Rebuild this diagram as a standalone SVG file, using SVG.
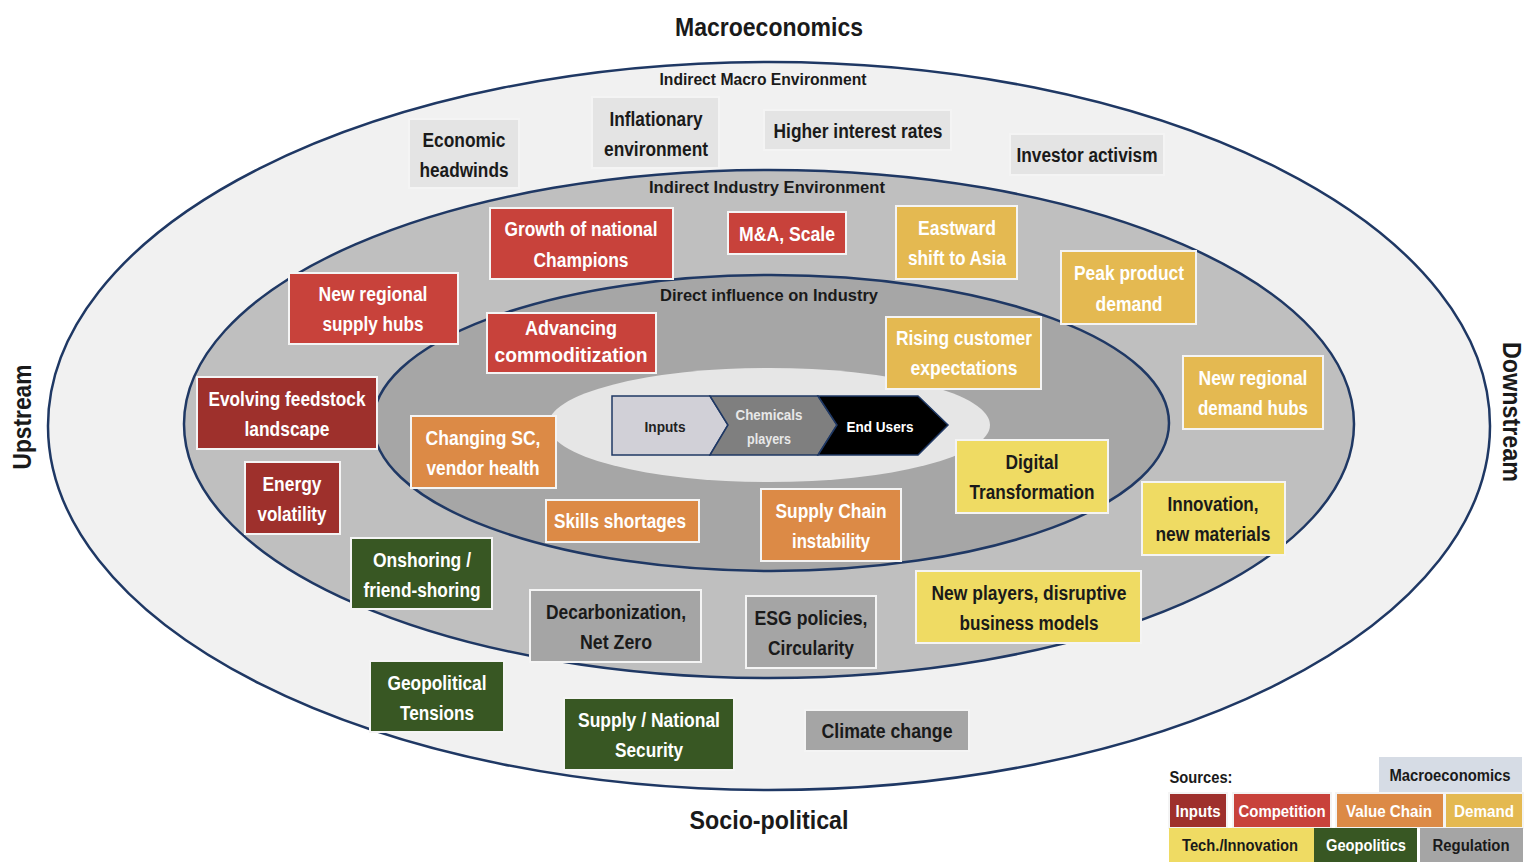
<svg xmlns="http://www.w3.org/2000/svg" width="1527" height="862" viewBox="0 0 1527 862">
<style>
text{font-family:"Liberation Sans Narrow","Liberation Sans",Arial,sans-serif;font-weight:bold;text-anchor:middle;dominant-baseline:central}
.ring{stroke:#1f3864;stroke-width:2.5}
.b{stroke:#f4f4f4;stroke-width:2}
.t{font-size:20px}
.macro{fill:#e4e4e4}
.comp{fill:#c8423b}
.inp{fill:#9e302c}
.vc{fill:#dc8a46}
.dem{fill:#e4b951}
.tech{fill:#efdb63}
.geo{fill:#385723}
.reg{fill:#a5a5a5}
.w{fill:#ffffff}
.d{fill:#1a1a1a}
.lg{font-size:16px}
</style>
<rect width="1527" height="862" fill="#ffffff"/>
<g id="rings">
<ellipse class="ring" cx="769" cy="426" rx="721" ry="364" fill="#f1f1f1"/>
<ellipse class="ring" cx="769" cy="424" rx="585" ry="254" fill="#bfbfbf"/>
<ellipse class="ring" cx="771" cy="423" rx="398" ry="148" fill="#a6a6a6"/>
<ellipse cx="769" cy="425" rx="221" ry="57" fill="#e6e6e6"/>
</g>
<g id="titles">
<text x="769" y="27" font-size="26" textLength="188" lengthAdjust="spacingAndGlyphs" class="d">Macroeconomics</text>
<text x="769" y="820" font-size="26" textLength="159" lengthAdjust="spacingAndGlyphs" class="d">Socio-political</text>
<text x="0" y="0" font-size="26" textLength="105" lengthAdjust="spacingAndGlyphs" class="d" transform="translate(22,417) rotate(-90)">Upstream</text>
<text x="0" y="0" font-size="26" textLength="140" lengthAdjust="spacingAndGlyphs" class="d" transform="translate(1512,412) rotate(90)">Downstream</text>
<text x="763" y="79" font-size="16" textLength="207" lengthAdjust="spacingAndGlyphs" class="d">Indirect Macro Environment</text>
<text x="767" y="187" font-size="16" textLength="236" lengthAdjust="spacingAndGlyphs" class="d">Indirect Industry Environment</text>
<text x="769" y="295" font-size="16" textLength="218" lengthAdjust="spacingAndGlyphs" class="d">Direct influence on Industry</text>
</g>
<g id="value-chain">
<g id="chev-inputs"><polygon points="612,396 710,396 728,425 710,455 612,455" fill="#d1d0d7" stroke="#1f3864" stroke-width="1.5"/>
<text x="665" y="426" font-size="15" textLength="41" lengthAdjust="spacingAndGlyphs" fill="#222">Inputs</text></g>
<g id="chev-chem"><polygon points="710,396 818,396 837,425 818,455 710,455 728,425" fill="#7f7f7f" stroke="#1f3864" stroke-width="1.5"/>
<text x="769" y="414" font-size="15" textLength="67" lengthAdjust="spacingAndGlyphs" fill="#e8e8e8">Chemicals</text>
<text x="769" y="438" font-size="15" textLength="44" lengthAdjust="spacingAndGlyphs" fill="#e8e8e8">players</text></g>
<g id="chev-end"><polygon points="818,396 918,396 948,425 918,455 818,455 837,425" fill="#000000" stroke="#1f3864" stroke-width="1.5"/>
<text x="880" y="426" font-size="15" textLength="67" lengthAdjust="spacingAndGlyphs" fill="#ffffff">End Users</text></g>
</g>
<g id="connectors"></g>
<g id="n-econ"><rect class="b macro" x="409" y="119" width="110" height="69"/><text class="t d" x="464" y="140" textLength="83" lengthAdjust="spacingAndGlyphs">Economic</text><text class="t d" x="464" y="170" textLength="89" lengthAdjust="spacingAndGlyphs">headwinds</text></g>
<g id="n-infl"><rect class="b macro" x="592" y="97" width="127" height="71"/><text class="t d" x="656" y="119" textLength="93" lengthAdjust="spacingAndGlyphs">Inflationary</text><text class="t d" x="656" y="149" textLength="104" lengthAdjust="spacingAndGlyphs">environment</text></g>
<g id="n-rates"><rect class="b macro" x="764" y="110" width="187" height="40"/><text class="t d" x="858" y="131" textLength="169" lengthAdjust="spacingAndGlyphs">Higher interest rates</text></g>
<g id="n-investor"><rect class="b macro" x="1010" y="134" width="154" height="41"/><text class="t d" x="1087" y="155" textLength="141" lengthAdjust="spacingAndGlyphs">Investor activism</text></g>
<g id="n-growth"><rect class="b comp" x="490" y="208" width="183" height="71"/><text class="t w" x="581" y="229" textLength="153" lengthAdjust="spacingAndGlyphs">Growth of national</text><text class="t w" x="581" y="260" textLength="95" lengthAdjust="spacingAndGlyphs">Champions</text></g>
<g id="n-ma"><rect class="b comp" x="728" y="212" width="118" height="42"/><text class="t w" x="787" y="234" textLength="96" lengthAdjust="spacingAndGlyphs">M&amp;A, Scale</text></g>
<g id="n-supplyhubs"><rect class="b comp" x="289" y="273" width="169" height="71"/><text class="t w" x="373" y="294" textLength="109" lengthAdjust="spacingAndGlyphs">New regional</text><text class="t w" x="373" y="324" textLength="101" lengthAdjust="spacingAndGlyphs">supply hubs</text></g>
<g id="n-commod"><rect class="b comp" x="487" y="313" width="169" height="60"/><text class="t w" x="571" y="328" textLength="92" lengthAdjust="spacingAndGlyphs">Advancing</text><text class="t w" x="571" y="355" textLength="153" lengthAdjust="spacingAndGlyphs">commoditization</text></g>
<g id="n-feedstock"><rect class="b inp" x="197" y="377" width="180" height="72"/><text class="t w" x="287" y="399" textLength="157" lengthAdjust="spacingAndGlyphs">Evolving feedstock</text><text class="t w" x="287" y="429" textLength="85" lengthAdjust="spacingAndGlyphs">landscape</text></g>
<g id="n-energy"><rect class="b inp" x="245" y="462" width="95" height="72"/><text class="t w" x="292" y="484" textLength="59" lengthAdjust="spacingAndGlyphs">Energy</text><text class="t w" x="292" y="514" textLength="69" lengthAdjust="spacingAndGlyphs">volatility</text></g>
<g id="n-changingsc"><rect class="b vc" x="411" y="416" width="145" height="72"/><text class="t w" x="483" y="438" textLength="115" lengthAdjust="spacingAndGlyphs">Changing SC,</text><text class="t w" x="483" y="468" textLength="113" lengthAdjust="spacingAndGlyphs">vendor health</text></g>
<g id="n-skills"><rect class="b vc" x="546" y="500" width="153" height="42"/><text class="t w" x="620" y="521" textLength="132" lengthAdjust="spacingAndGlyphs">Skills shortages</text></g>
<g id="n-scinst"><rect class="b vc" x="761" y="489" width="140" height="72"/><text class="t w" x="831" y="511" textLength="111" lengthAdjust="spacingAndGlyphs">Supply Chain</text><text class="t w" x="831" y="541" textLength="78" lengthAdjust="spacingAndGlyphs">instability</text></g>
<g id="n-eastward"><rect class="b dem" x="896" y="206" width="121" height="73"/><text class="t w" x="957" y="228" textLength="78" lengthAdjust="spacingAndGlyphs">Eastward</text><text class="t w" x="957" y="258" textLength="98" lengthAdjust="spacingAndGlyphs">shift to Asia</text></g>
<g id="n-peak"><rect class="b dem" x="1061" y="251" width="135" height="73"/><text class="t w" x="1129" y="273" textLength="110" lengthAdjust="spacingAndGlyphs">Peak product</text><text class="t w" x="1129" y="304" textLength="67" lengthAdjust="spacingAndGlyphs">demand</text></g>
<g id="n-rising"><rect class="b dem" x="886" y="317" width="155" height="72"/><text class="t w" x="964" y="338" textLength="136" lengthAdjust="spacingAndGlyphs">Rising customer</text><text class="t w" x="964" y="368" textLength="107" lengthAdjust="spacingAndGlyphs">expectations</text></g>
<g id="n-demandhubs"><rect class="b dem" x="1183" y="356" width="140" height="73"/><text class="t w" x="1253" y="378" textLength="109" lengthAdjust="spacingAndGlyphs">New regional</text><text class="t w" x="1253" y="408" textLength="110" lengthAdjust="spacingAndGlyphs">demand hubs</text></g>
<g id="n-digital"><rect class="b tech" x="956" y="440" width="152" height="73"/><text class="t d" x="1032" y="462" textLength="53" lengthAdjust="spacingAndGlyphs">Digital</text><text class="t d" x="1032" y="492" textLength="125" lengthAdjust="spacingAndGlyphs">Transformation</text></g>
<g id="n-innov"><rect class="b tech" x="1142" y="482" width="143" height="73"/><text class="t d" x="1213" y="504" textLength="91" lengthAdjust="spacingAndGlyphs">Innovation,</text><text class="t d" x="1213" y="534" textLength="115" lengthAdjust="spacingAndGlyphs">new materials</text></g>
<g id="n-newplayers"><rect class="b tech" x="916" y="571" width="225" height="72"/><text class="t d" x="1029" y="593" textLength="195" lengthAdjust="spacingAndGlyphs">New players, disruptive</text><text class="t d" x="1029" y="623" textLength="139" lengthAdjust="spacingAndGlyphs">business models</text></g>
<g id="n-onshoring"><rect class="b geo" x="351" y="538" width="141" height="71"/><text class="t w" x="422" y="560" textLength="98" lengthAdjust="spacingAndGlyphs">Onshoring /</text><text class="t w" x="422" y="590" textLength="117" lengthAdjust="spacingAndGlyphs">friend-shoring</text></g>
<g id="n-geotens"><rect class="b geo" x="370" y="661" width="134" height="71"/><text class="t w" x="437" y="683" textLength="99" lengthAdjust="spacingAndGlyphs">Geopolitical</text><text class="t w" x="437" y="713" textLength="74" lengthAdjust="spacingAndGlyphs">Tensions</text></g>
<g id="n-natsec"><rect class="b geo" x="564" y="698" width="170" height="72"/><text class="t w" x="649" y="720" textLength="142" lengthAdjust="spacingAndGlyphs">Supply / National</text><text class="t w" x="649" y="750" textLength="68" lengthAdjust="spacingAndGlyphs">Security</text></g>
<g id="n-decarb"><rect class="b reg" x="530" y="590" width="171" height="72"/><text class="t d" x="616" y="612" textLength="140" lengthAdjust="spacingAndGlyphs">Decarbonization,</text><text class="t d" x="616" y="642" textLength="72" lengthAdjust="spacingAndGlyphs">Net Zero</text></g>
<g id="n-esg"><rect class="b reg" x="746" y="596" width="130" height="72"/><text class="t d" x="811" y="618" textLength="113" lengthAdjust="spacingAndGlyphs">ESG policies,</text><text class="t d" x="811" y="648" textLength="86" lengthAdjust="spacingAndGlyphs">Circularity</text></g>
<g id="n-climate"><rect class="b reg" x="805" y="710" width="164" height="41"/><text class="t d" x="887" y="731" textLength="131" lengthAdjust="spacingAndGlyphs">Climate change</text></g>
<g id="legend">
<text class="lg d" x="1201" y="777" textLength="63" lengthAdjust="spacingAndGlyphs">Sources:</text>
<rect x="1379" y="757" width="143" height="35" fill="#d6dce5"/><text class="lg d" x="1450" y="775" textLength="121" lengthAdjust="spacingAndGlyphs">Macroeconomics</text>
<rect class="b inp" x="1169" y="793" width="58" height="35"/><text class="lg w" x="1198" y="811" textLength="45" lengthAdjust="spacingAndGlyphs">Inputs</text>
<rect class="b comp" x="1233" y="793" width="98" height="35"/><text class="lg w" x="1282" y="811" textLength="87" lengthAdjust="spacingAndGlyphs">Competition</text>
<rect class="b vc" x="1336" y="793" width="108" height="35"/><text class="lg w" x="1389" y="811" textLength="86" lengthAdjust="spacingAndGlyphs">Value Chain</text>
<rect class="b dem" x="1445" y="793" width="78" height="35"/><text class="lg w" x="1484" y="811" textLength="60" lengthAdjust="spacingAndGlyphs">Demand</text>
<rect class="tech" x="1169" y="828" width="145" height="34"/><text class="lg d" x="1240" y="845" textLength="116" lengthAdjust="spacingAndGlyphs">Tech./Innovation</text>
<rect class="geo" x="1314" y="828" width="103" height="34"/><text class="lg w" x="1366" y="845" textLength="80" lengthAdjust="spacingAndGlyphs">Geopolitics</text>
<rect class="reg" x="1420" y="828" width="103" height="34"/><text class="lg d" x="1471" y="845" textLength="77" lengthAdjust="spacingAndGlyphs">Regulation</text>
</g>
</svg>
